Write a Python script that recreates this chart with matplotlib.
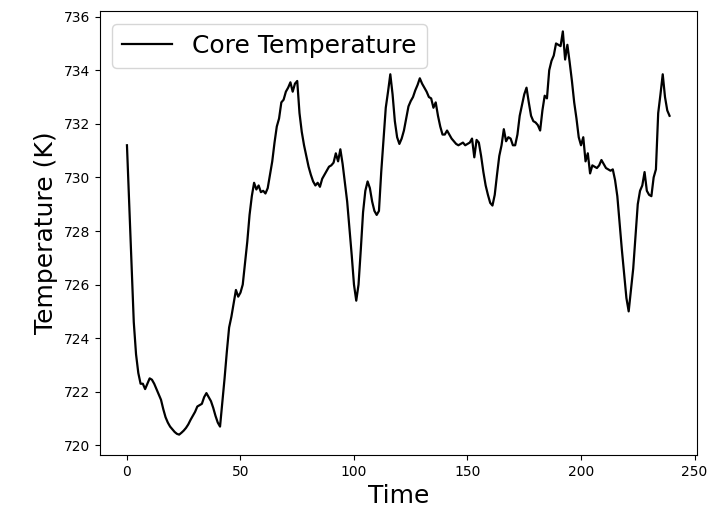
import matplotlib
matplotlib.use('Agg')
import matplotlib.pyplot as plt
import numpy as np

# Core temperature log, one sample per time step
time = np.arange(240)
core_temp = [
    731.2, 729.0, 726.7, 724.6, 723.4, 722.7, 722.3, 722.3, 722.1, 722.3,
    722.5, 722.45, 722.3, 722.1, 721.9, 721.7, 721.35, 721.05, 720.85, 720.7,
    720.6, 720.5, 720.43, 720.4, 720.47, 720.55, 720.65, 720.78, 720.95, 721.1,
    721.25, 721.45, 721.5, 721.55, 721.8, 721.95, 721.8, 721.65, 721.4, 721.1,
    720.85, 720.7, 721.6, 722.5, 723.5, 724.4, 724.8, 725.3, 725.8, 725.55,
    725.7, 726.0, 726.8, 727.6, 728.6, 729.3, 729.8, 729.55, 729.7, 729.45,
    729.5, 729.4, 729.6, 730.1, 730.6, 731.3, 731.9, 732.2, 732.8, 732.9,
    733.2, 733.35, 733.55, 733.2, 733.5, 733.6, 732.4, 731.7, 731.2, 730.8,
    730.4, 730.1, 729.85, 729.7, 729.8, 729.65, 729.95, 730.1, 730.25, 730.4,
    730.45, 730.55, 730.9, 730.6, 731.05, 730.5, 729.8, 729.1, 728.1, 727.1,
    726.0, 725.4, 726.0, 727.3, 728.7, 729.5, 729.85, 729.6, 729.1, 728.75,
    728.6, 728.75, 730.2, 731.4, 732.6, 733.2, 733.85, 733.1, 732.1, 731.5,
    731.25, 731.45, 731.75, 732.2, 732.65, 732.85, 733.0, 733.25, 733.45, 733.7,
    733.5, 733.35, 733.2, 733.0, 732.95, 732.6, 732.8, 732.3, 731.9, 731.6,
    731.6, 731.75, 731.6, 731.45, 731.35, 731.25, 731.2, 731.25, 731.3, 731.2,
    731.25, 731.3, 731.45, 730.75, 731.4, 731.3, 730.8, 730.2, 729.7, 729.35,
    729.05, 728.95, 729.35, 730.1, 730.8, 731.2, 731.8, 731.35, 731.5, 731.45,
    731.2, 731.2, 731.6, 732.3, 732.7, 733.1, 733.35, 732.8, 732.3, 732.1,
    732.05, 731.95, 731.75, 732.5, 733.05, 732.95, 734.0, 734.35, 734.55, 735.0,
    734.95, 734.9, 735.45, 734.4, 734.95, 734.3, 733.6, 732.8, 732.2, 731.5,
    731.2, 731.5, 730.6, 730.9, 730.15, 730.45, 730.4, 730.35, 730.45, 730.65,
    730.5, 730.35, 730.3, 730.25, 730.3, 729.9, 729.3, 728.3, 727.3, 726.4,
    725.5, 725.0, 725.8, 726.6, 727.8, 729.0, 729.5, 729.7, 730.2, 729.5,
    729.35, 729.3, 730.0, 730.3, 732.4, 733.1, 733.85, 733.0, 732.5, 732.3,
]

fig = plt.figure(figsize=(7.08, 5.11), dpi=100)
ax = fig.add_axes([0.141, 0.110, 0.843, 0.868])
ax.plot(time, core_temp, color='black', linewidth=1.6, label='Core Temperature')
ax.set_xlabel('Time', fontsize=18)
ax.set_ylabel('Temperature (K)', fontsize=18)
ax.legend(loc='upper left', fontsize=18)

plt.savefig('out.png', dpi=100)
